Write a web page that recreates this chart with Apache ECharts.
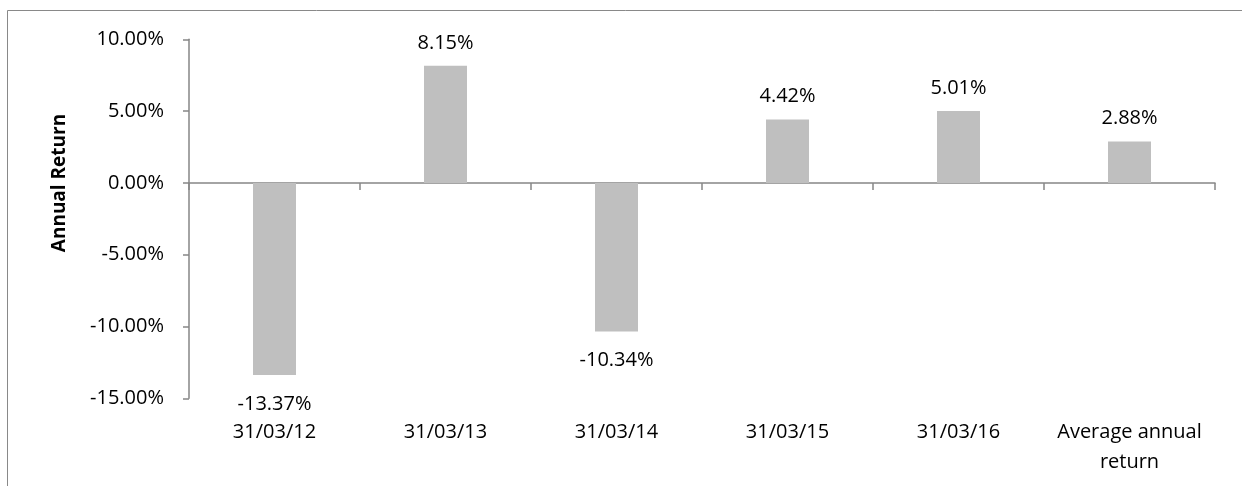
<!DOCTYPE html>
<html>
<head>
<meta charset="utf-8">
<script src="https://cdn.jsdelivr.net/npm/echarts@6/dist/echarts.min.js"></script>
<style>
html,body{margin:0;padding:0;background:#fff;}
#chart{width:1242px;height:486px;}
</style>
</head>
<body>
<div id="chart"></div>
<script>
const categories = ['31/03/12', '31/03/13', '31/03/14', '31/03/15', '31/03/16', 'Average annual\nreturn'];
const returns = [-13.37, 8.15, -10.34, 4.42, 5.01, 2.88];
const yMin = -15, yMax = 10, yStep = 5;
const yTitle = 'Annual Return';

const FONT = 'Open Sans';
const FS = 20;
const chart = echarts.init(document.getElementById('chart'), null, {renderer: 'canvas'});
const barData = returns.map(v => ({
  value: v,
  label: {position: v < 0 ? 'bottom' : 'top', distance: v < 0 ? 19 : 13}
}));
chart.setOption({
  animation: false,
  backgroundColor: '#ffffff',
  grid: {left: 189, right: 27, top: 39.3, bottom: 87.7, containLabel: false, outerBoundsMode: 'none'},
  graphic: [
    {type: 'rect', shape: {x: 7.5, y: 10.5, width: 1400, height: 700}, style: {fill: 'none', stroke: '#898989', lineWidth: 1}, silent: true},
    {type: 'text', x: 60, y: 183, rotation: Math.PI / 2,
     style: {text: yTitle, font: 'bold 19px "' + FONT + '"', fill: '#000', align: 'center', verticalAlign: 'middle'}}
  ],
  xAxis: [{
    type: 'category',
    data: categories,
    boundaryGap: true,
    axisLine: {onZero: true, lineStyle: {color: '#868686', width: 1.5}},
    axisTick: {show: true, alignWithLabel: false, length: 7, lineStyle: {color: '#868686', width: 1.5}},
    axisLabel: {show: false},
    splitLine: {show: false}
  }, {
    type: 'category',
    data: categories,
    position: 'bottom',
    boundaryGap: true,
    axisLine: {show: false, onZero: false},
    axisTick: {show: false},
    axisLabel: {margin: 19, color: '#000', fontFamily: FONT, fontSize: FS, lineHeight: 30, verticalAlign: 'top', interval: 0},
    splitLine: {show: false}
  }],
  yAxis: {
    type: 'value',
    min: yMin, max: yMax, interval: yStep,
    axisLine: {show: true, lineStyle: {color: '#868686', width: 1.5}},
    axisTick: {show: true, length: 6, lineStyle: {color: '#868686', width: 1.5}},
    axisLabel: {margin: 25, color: '#000', fontFamily: FONT, fontSize: FS, formatter: v => v.toFixed(2) + '%'},
    splitLine: {show: false}
  },
  series: [{
    type: 'bar',
    xAxisIndex: 0,
    data: barData,
    barWidth: 43,
    itemStyle: {color: '#bfbfbf'},
    label: {show: true, color: '#000', fontFamily: FONT, fontSize: FS, formatter: p => p.value.toFixed(2) + '%'}
  }]
});
</script>
</body>
</html>
